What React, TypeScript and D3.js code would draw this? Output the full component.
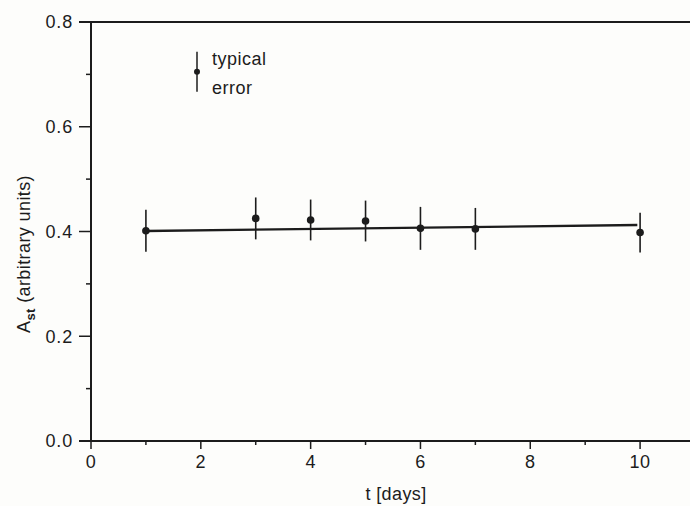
import * as d3 from 'd3';
import { useEffect, useRef } from 'react';

// measured points (t in days, A_st in arbitrary units)
const days = [1, 3, 4, 5, 6, 7, 10];
const values = [0.4015, 0.425, 0.422, 0.42, 0.406, 0.405, 0.398];
const errors = [0.04, 0.04, 0.039, 0.039, 0.041, 0.04, 0.038];

// straight line drawn through the points
const fitDays = [1, 9.95];
const fitValues = [0.401, 0.4124];

const xTicks = [0, 2, 4, 6, 8, 10];
const yTicks = [0, 0.2, 0.4, 0.6, 0.8];

const W = 690;
const H = 506;

export default function App() {
  const svgRef = useRef<SVGSVGElement>(null);

  useEffect(() => {
    if (!svgRef.current) return;
    const svg = d3.select(svgRef.current);
    svg.selectAll('*').remove();

    const left = 91;
    const top = 22;
    const bottom = 441;

    const x = d3.scaleLinear().domain([0, 11]).range([left, left + 604]);
    const y = d3.scaleLinear().domain([0, 0.8]).range([bottom, top]);

    const font = '"Liberation Sans", Arial, sans-serif';
    const ink = '#1c1c1c';

    svg.append('rect').attr('width', W).attr('height', H).attr('fill', '#fdfdfb');

    // frame: top line
    svg
      .append('line')
      .attr('x1', left - 12)
      .attr('x2', W + 5)
      .attr('y1', top)
      .attr('y2', top)
      .attr('stroke', ink)
      .attr('stroke-width', 2);

    // bottom axis
    const xAxis = svg.append('g').attr('transform', `translate(0,${bottom})`);
    xAxis
      .append('line')
      .attr('x1', left - 12)
      .attr('x2', W + 5)
      .attr('stroke', ink)
      .attr('stroke-width', 2);
    xAxis
      .selectAll('line.major')
      .data(xTicks)
      .join('line')
      .attr('class', 'major')
      .attr('x1', (d) => x(d))
      .attr('x2', (d) => x(d))
      .attr('y1', 0)
      .attr('y2', 8)
      .attr('stroke', ink)
      .attr('stroke-width', 1.5);
    xAxis
      .selectAll('line.minor')
      .data(d3.range(1, 11, 2))
      .join('line')
      .attr('class', 'minor')
      .attr('x1', (d) => x(d))
      .attr('x2', (d) => x(d))
      .attr('y1', 0)
      .attr('y2', 4)
      .attr('stroke', ink)
      .attr('stroke-width', 1.5);
    xAxis
      .selectAll('text')
      .data(xTicks)
      .join('text')
      .attr('x', (d) => x(d))
      .attr('y', 27)
      .attr('text-anchor', 'middle')
      .style('font', `18px ${font}`)
      .style('letter-spacing', '0.5px')
      .attr('fill', ink)
      .text((d) => d3.format('d')(d));

    // left axis
    const yAxis = svg.append('g').attr('transform', `translate(${left},0)`);
    yAxis
      .append('line')
      .attr('y1', top)
      .attr('y2', bottom)
      .attr('stroke', ink)
      .attr('stroke-width', 2);
    yAxis
      .selectAll('line.major')
      .data(yTicks)
      .join('line')
      .attr('class', 'major')
      .attr('x1', -12)
      .attr('x2', 0)
      .attr('y1', (d) => y(d))
      .attr('y2', (d) => y(d))
      .attr('stroke', ink)
      .attr('stroke-width', 1.5);
    yAxis
      .selectAll('line.minor')
      .data([0.1, 0.3, 0.5, 0.7])
      .join('line')
      .attr('class', 'minor')
      .attr('x1', -5)
      .attr('x2', 0)
      .attr('y1', (d) => y(d))
      .attr('y2', (d) => y(d))
      .attr('stroke', ink)
      .attr('stroke-width', 1.5);
    yAxis
      .selectAll('text')
      .data(yTicks)
      .join('text')
      .attr('x', -18)
      .attr('y', (d) => y(d))
      .attr('dy', '0.35em')
      .attr('text-anchor', 'end')
      .style('font', `18px ${font}`)
      .style('letter-spacing', '0.8px')
      .attr('fill', ink)
      .text((d) => d3.format('.1f')(d));

    // axis titles
    svg
      .append('text')
      .attr('x', 396)
      .attr('y', 500)
      .attr('text-anchor', 'middle')
      .style('font', `18px ${font}`)
      .style('letter-spacing', '0.4px')
      .attr('fill', ink)
      .text('t [days]');

    const yTitle = svg
      .append('text')
      .attr('transform', 'translate(30,254) rotate(-90)')
      .attr('text-anchor', 'middle')
      .style('font', `18px ${font}`)
      .style('letter-spacing', '0.4px')
      .attr('fill', ink);
    yTitle.append('tspan').text('A');
    yTitle.append('tspan').attr('dy', 5).style('font-size', '13px').style('font-weight', 'bold').text('st');
    yTitle.append('tspan').attr('dy', -5).text(' (arbitrary units)');

    // fitted line
    const line = d3
      .line<number>()
      .x((_, i) => x(fitDays[i]))
      .y((d) => y(d));
    svg
      .append('path')
      .datum(fitValues)
      .attr('d', line)
      .attr('fill', 'none')
      .attr('stroke', ink)
      .attr('stroke-width', 2.3);

    // error bars and points
    const pts = days.map((t, i) => ({ t, v: values[i], e: errors[i] }));
    svg
      .append('g')
      .selectAll('line')
      .data(pts)
      .join('line')
      .attr('x1', (d) => x(d.t))
      .attr('x2', (d) => x(d.t))
      .attr('y1', (d) => y(d.v + d.e))
      .attr('y2', (d) => y(d.v - d.e))
      .attr('stroke', ink)
      .attr('stroke-width', 1.6);
    svg
      .append('g')
      .selectAll('circle')
      .data(pts)
      .join('circle')
      .attr('cx', (d) => x(d.t))
      .attr('cy', (d) => y(d.v))
      .attr('r', 3.8)
      .attr('fill', ink);

    // typical error legend
    const lx = 197;
    const lv = 0.705;
    const le = 0.038;
    svg
      .append('line')
      .attr('x1', lx)
      .attr('x2', lx)
      .attr('y1', y(lv + le))
      .attr('y2', y(lv - le))
      .attr('stroke', ink)
      .attr('stroke-width', 1.5);
    svg.append('circle').attr('cx', lx).attr('cy', y(lv)).attr('r', 3).attr('fill', ink);
    svg
      .append('text')
      .attr('x', 212)
      .attr('y', 65)
      .style('font', `18px ${font}`)
      .style('letter-spacing', '0.5px')
      .attr('fill', ink)
      .text('typical');
    svg
      .append('text')
      .attr('x', 212)
      .attr('y', 94)
      .style('font', `18px ${font}`)
      .style('letter-spacing', '0.5px')
      .attr('fill', ink)
      .text('error');
  }, []);

  return (
    <div style={{ position: 'absolute', left: 0, top: 0 }}>
      <svg ref={svgRef} width={W} height={H} style={{ display: 'block' }}></svg>
    </div>
  );
}
